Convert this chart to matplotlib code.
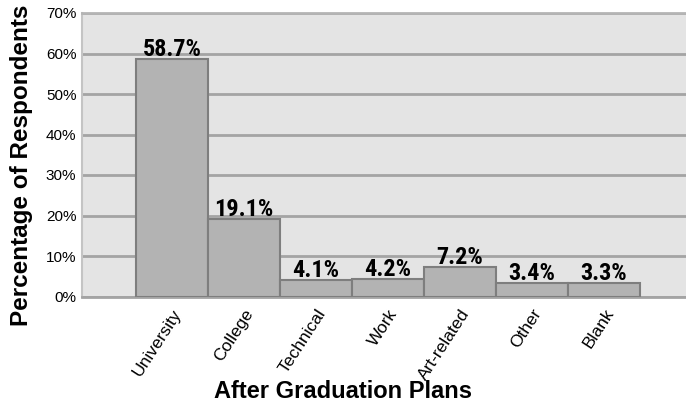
import matplotlib
matplotlib.use("Agg")
import matplotlib.pyplot as plt
from matplotlib import font_manager
from matplotlib.ticker import FuncFormatter
from matplotlib.transforms import offset_copy

categories = ["University", "College", "Technical", "Work", "Art-related", "Other", "Blank"]
values = [58.7, 19.1, 4.1, 4.2, 7.2, 3.4, 3.3]
yticks = [0, 10, 20, 30, 40, 50, 60, 70]

plt.rcParams['font.family'] = ['Liberation Sans', 'DejaVu Sans']


def _w(v):
    if isinstance(v, str):
        return font_manager.weight_dict.get(v, 400)
    return v


candidates = ["Liberation Sans Narrow", "Arial Narrow", "Roboto Condensed", "Archivo Narrow",
              "PT Sans Narrow", "IBM Plex Sans Condensed", "Barlow Semi Condensed"]
bold_names = {f.name for f in font_manager.fontManager.ttflist if _w(f.weight) >= 600}
narrow = next((c for c in candidates if c in bold_names), None)
if narrow:
    lab_family, lab_size = [narrow, 'Liberation Sans', 'DejaVu Sans'], 17.5
else:
    lab_family, lab_size = ['Liberation Sans', 'DejaVu Sans'], 14

fig = plt.figure(figsize=(6.86, 4.04), dpi=100)
ax = fig.add_axes([82 / 686, (404 - 296.5) / 404, 604 / 686, 283.5 / 404])
ax.set_facecolor("#e4e4e4")

x = list(range(len(categories)))
ax.bar(x, values, width=1.0, color="#b3b3b3", edgecolor="#7e7e7e", linewidth=1.5, zorder=3)
for xi, v in zip(x, values):
    ax.text(xi, v, f"{v}%", ha="center", va="baseline", fontsize=lab_size, fontweight="bold",
            family=lab_family, zorder=4,
            transform=offset_copy(ax.transData, fig=fig, x=0, y=3, units='dots'))

ax.set_ylim(0, 70)
ax.set_xlim(-1.25, -1.25 + 604 / 72)
ax.set_yticks(yticks)
ax.yaxis.set_major_formatter(FuncFormatter(lambda v, p: f"{int(v)}%"))
ax.yaxis.grid(True, color="#a4a4a4", linewidth=2, zorder=1)
ax.set_axisbelow(True)
ax.tick_params(axis="y", length=0, labelsize=11, pad=4)
ax.tick_params(axis="x", length=0, labelsize=12.5, pad=7)
ax.set_xticks(x)
ax.set_xticklabels(categories, rotation=57, ha="right", va="top", rotation_mode="anchor")
ax.spines["right"].set_visible(False)
ax.spines["top"].set_color("#b4b4b4")
ax.spines["top"].set_linewidth(2)
ax.spines["left"].set_color("#c4c4c4")
ax.spines["left"].set_linewidth(1.5)
ax.spines["bottom"].set_color("#a4a4a4")
ax.spines["bottom"].set_linewidth(2)

ax.set_ylabel("Percentage of Respondents", fontsize=17.5, fontweight="bold")
ax.yaxis.set_label_coords(33 / 686, 1 - 165 / 404, transform=fig.transFigure)
ax.set_xlabel("After Graduation Plans", fontsize=17, fontweight="bold")
ax.xaxis.label.set_va("baseline")
ax.xaxis.set_label_coords(0.5, 6 / 404, transform=fig.transFigure)

fig.savefig("out.png", dpi=100)
